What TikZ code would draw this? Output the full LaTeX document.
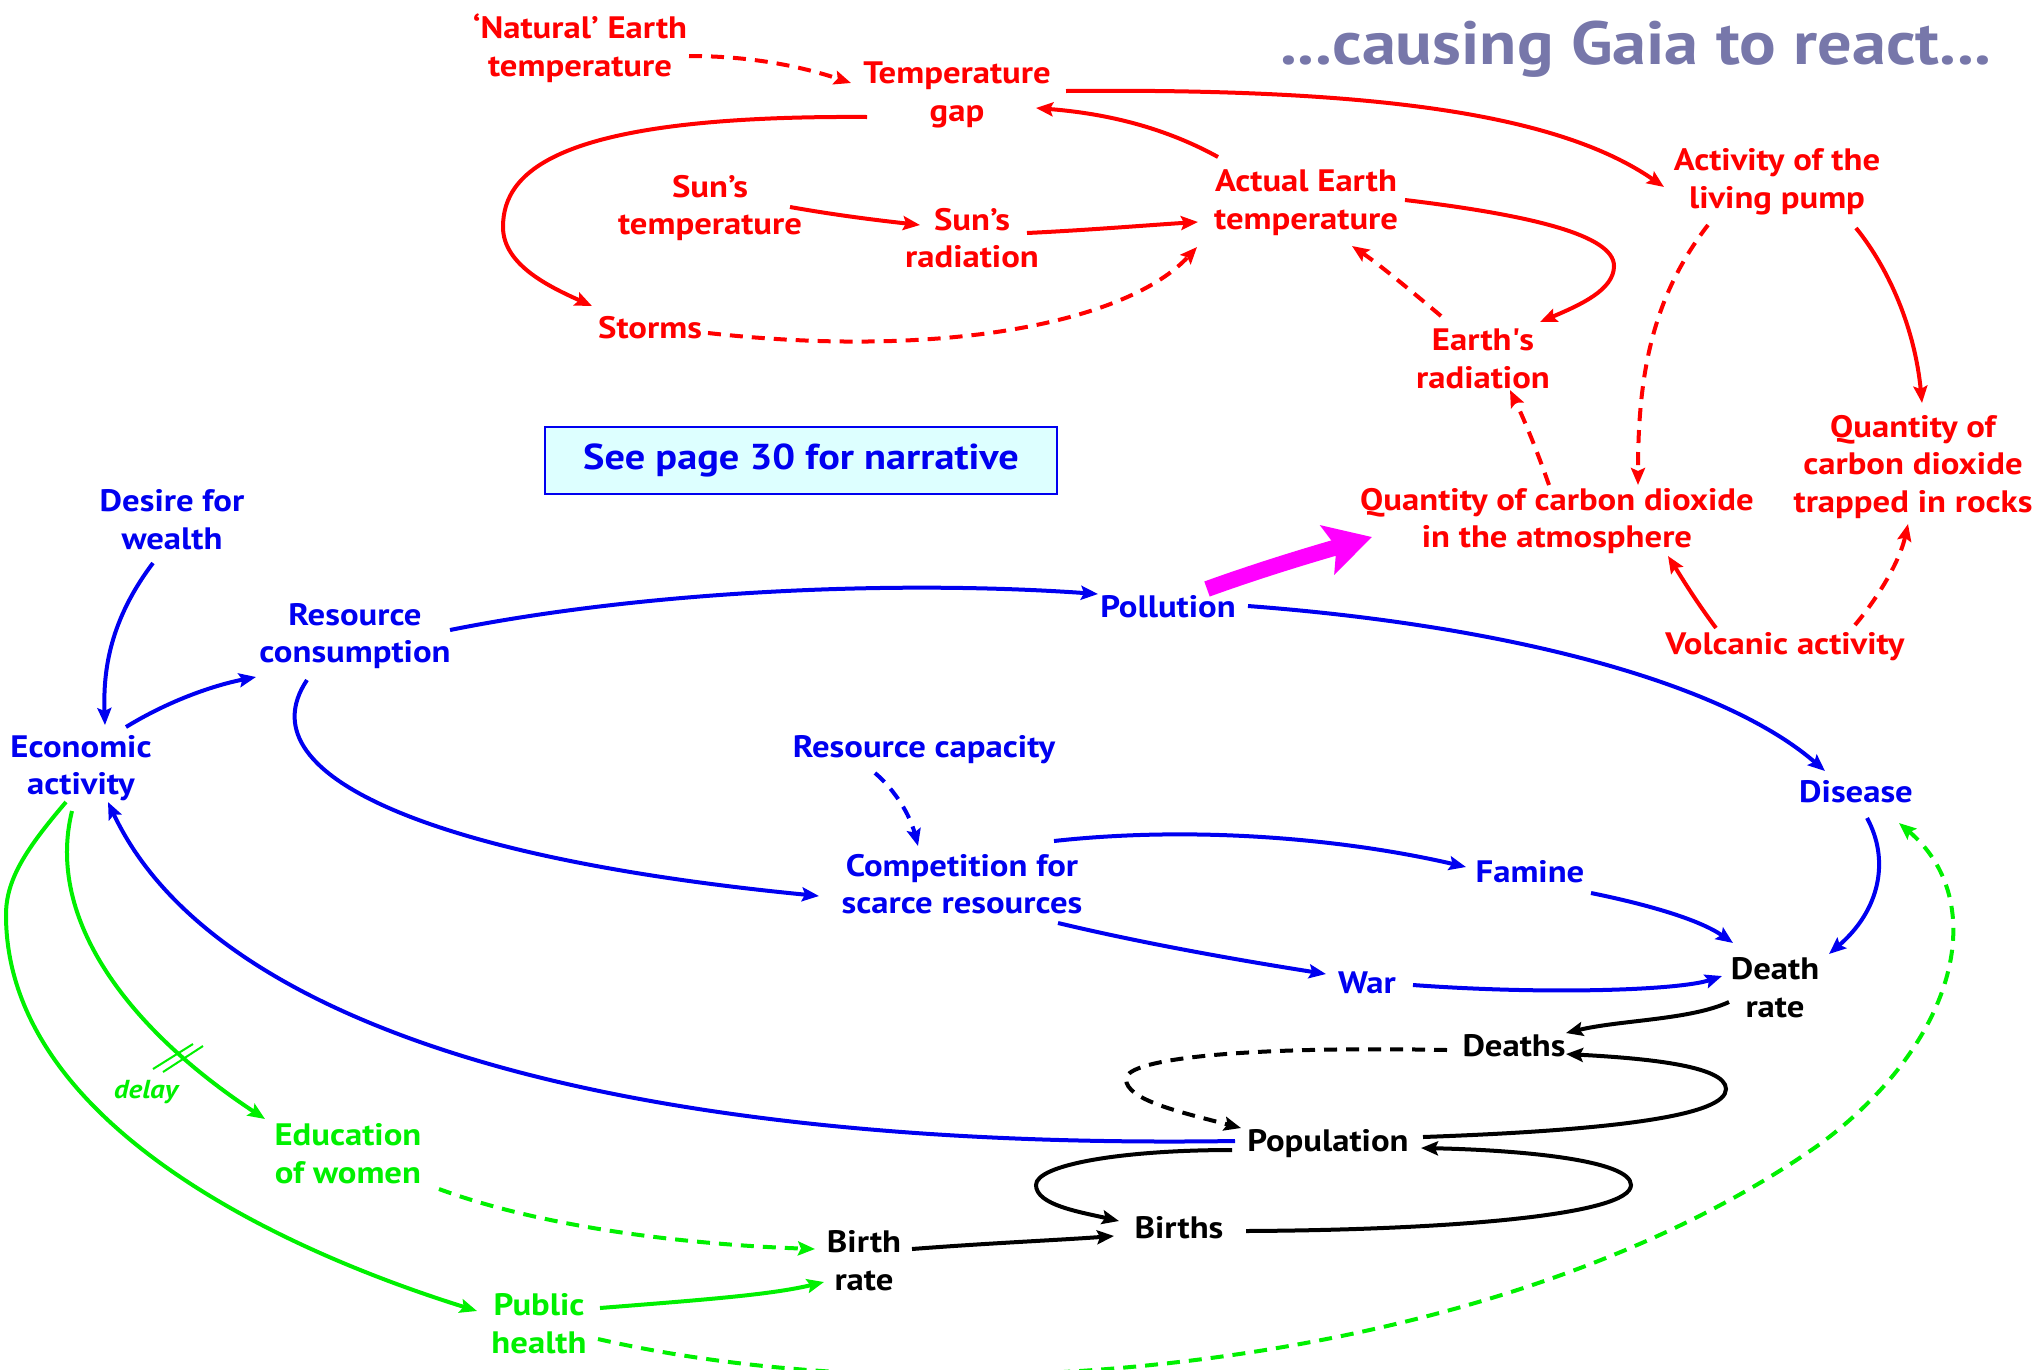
\documentclass[tikz,border=0pt]{standalone}
\usepackage{fontspec}
\setmainfont{PT Sans}[FakeStretch=1.12]
\usetikzlibrary{arrows.meta}
\definecolor{cRed}{RGB}{255,0,0}
\definecolor{cBlue}{RGB}{0,0,240}
\definecolor{cGreen}{RGB}{0,240,0}
\definecolor{cMag}{RGB}{255,0,255}
\definecolor{cTitle}{RGB}{119,119,170}
\definecolor{cBox}{RGB}{221,255,255}
\begin{document}
\begin{tikzpicture}[x=1pt,y=-1pt,
  lbl/.style={font=\fontsize{31}{37.7}\selectfont\bfseries, align=center, inner sep=0pt, yshift=-4pt},
  rtxt/.style={lbl,text=cRed},
  btxt/.style={lbl,text=cBlue},
  gtxt/.style={lbl,text=cGreen},
  ktxt/.style={lbl,text=black},
  link/.style={line width=4pt, -{Stealth[length=17pt,width=14pt,inset=3pt]}},
  dsh/.style={dash pattern=on 13pt off 9pt},
  rlink/.style={link,draw=cRed},
  blink/.style={link,draw=cBlue},
  glink/.style={link,draw=cGreen},
  klink/.style={link,draw=black},
]
\useasboundingbox (0,0) rectangle (2038,1369);

% ---------- title and note ----------
\node[font=\fontsize{61}{64}\selectfont\bfseries, text=cTitle, inner sep=0pt] (title) at (1636,49) {...causing Gaia to react...};
\node[draw=cBlue, line width=2pt, fill=cBox, minimum width=512pt, minimum height=67pt,
      font=\fontsize{36}{40}\selectfont\bfseries, text=cBlue] (note) at (801,460) {See page 30 for narrative};

% ---------- Gaia (red) ----------
\node[rtxt] (natural) at (580,44)  {‘Natural’ Earth\\temperature};
\node[rtxt] (tgap)    at (957,91)  {Temperature\\gap};
\node[rtxt] (sunT)    at (710,204) {Sun’s\\temperature};
\node[rtxt] (sunR)    at (972,234) {Sun’s\\radiation};
\node[rtxt] (actual)  at (1306,199) {Actual Earth\\temperature};
\node[rtxt] (storms)  at (650,324) {Storms};
\node[rtxt] (pump)    at (1777,178) {Activity of the\\living pump};
\node[rtxt] (earthR)  at (1483,355) {Earth\textquotesingle s\\radiation};
\node[rtxt] (co2)     at (1557,517) {Quantity of carbon dioxide\\in the atmosphere};
\node[rtxt] (rocks)   at (1913,463) {Quantity of\\carbon dioxide\\trapped in rocks};
\node[rtxt] (volc)    at (1785,643) {Volcanic activity};

% ---------- human activity (blue) ----------
\node[btxt] (desire)    at (172,516)  {Desire for\\wealth};
\node[btxt] (econ)      at (81,764)   {Economic\\activity};
\node[btxt] (rescons)   at (355,632)  {Resource\\consumption};
\node[btxt] (pollution) at (1168,603) {Pollution};
\node[btxt] (disease)   at (1856,788) {Disease};
\node[btxt] (rescap)    at (924,746)  {Resource capacity};
\node[btxt] (comp)      at (962,880)  {Competition for\\scarce resources};
\node[btxt] (famine)    at (1530,868) {Famine};
\node[btxt] (war)       at (1367,979) {War};

% ---------- population (black) ----------
\node[ktxt] (deathrate)  at (1775,984)  {Death\\rate};
\node[ktxt] (deaths)     at (1514,1042) {Deaths};
\node[ktxt] (population) at (1328,1140) {Population};
\node[ktxt] (births)     at (1179,1224) {Births};
\node[ktxt] (birthrate)  at (864,1257)  {Birth\\rate};

% ---------- social (green) ----------
\node[gtxt] (edu)    at (348,1150) {Education\\of women};
\node[gtxt] (health) at (539,1320) {Public\\health};
\node[font=\fontsize{26}{30}\selectfont\bfseries\itshape, text=cGreen, inner sep=0pt] (delay) at (146,1092) {delay};

% ---------- red links ----------
\draw[rlink,dsh] ([shift={(109,8)}]natural.center) .. controls (750,56) and (800,66) .. ([shift={(-106,-12)}]tgap.center);
\draw[rlink] ([shift={(-90,22)}]tgap.center) .. controls (560,115) and (503,170) .. (503,227)
             .. controls (503,265) and (550,287) .. ([shift={(-58,-22)}]storms.center);
\draw[rlink] ([shift={(80,-1)}]sunT.center) .. controls (835,215) and (875,220) .. ([shift={(-52,-13)}]sunR.center);
\draw[rlink] ([shift={(55,-5)}]sunR.center) .. controls (1090,230) and (1150,225) .. ([shift={(-108,19)}]actual.center);
\draw[rlink,dsh] ([shift={(58,5)}]storms.center) .. controls (950,360) and (1130,320) .. ([shift={(-109,44)}]actual.center);
\draw[rlink] ([shift={(-88,-46)}]actual.center) .. controls (1160,125) and (1100,113) .. ([shift={(79,13)}]tgap.center);
\draw[rlink] ([shift={(109,-4)}]tgap.center) .. controls (1380,88) and (1560,115) .. ([shift={(-113,5)}]pump.center);
\draw[rlink] ([shift={(99,-3)}]actual.center) .. controls (1530,215) and (1614,235) .. (1614,266)
             .. controls (1614,290) and (1580,305) .. ([shift={(57,-37)}]earthR.center);
\draw[rlink,dsh] ([shift={(-42,-43)}]earthR.center) .. controls (1410,290) and (1380,265) .. ([shift={(46,43)}]actual.center);
\draw[rlink,dsh] ([shift={(-8,-36)}]co2.center) .. controls (1535,445) and (1522,415) .. ([shift={(27,31)}]earthR.center);
\draw[rlink,dsh] ([shift={(-69,43)}]pump.center) .. controls (1650,300) and (1638,380) .. ([shift={(81,-36)}]co2.center);
\draw[rlink] ([shift={(79,46)}]pump.center) .. controls (1890,270) and (1915,330) .. ([shift={(9,-64)}]rocks.center);
\draw[rlink] ([shift={(-69,-19)}]volc.center) .. controls (1695,600) and (1680,575) .. ([shift={(111,35)}]co2.center);
\draw[rlink,dsh] ([shift={(70,-22)}]volc.center) .. controls (1880,595) and (1900,560) .. ([shift={(-5,57)}]rocks.center);

% ---------- pollution feeds the atmosphere ----------
\draw[draw=cMag, line width=16pt, -{Stealth[length=46pt,width=50pt,inset=9pt]}]
  ([shift={(39,-18)}]pollution.center) .. controls (1265,568) and (1320,552) .. ([shift={(-185,16)}]co2.center);

% ---------- blue links ----------
\draw[blink] ([shift={(-19,43)}]desire.center) .. controls (110,620) and (103,670) .. ([shift={(24,-43)}]econ.center);
\draw[blink] ([shift={(45,-41)}]econ.center) .. controls (170,700) and (215,685) .. ([shift={(-99,41)}]rescons.center);
\draw[blink] ([shift={(95,-6)}]rescons.center) .. controls (650,590) and (900,580) .. ([shift={(-70,-13)}]pollution.center);
\draw[blink] ([shift={(-48,44)}]rescons.center) .. controls (240,780) and (450,860) .. ([shift={(-143,12)}]comp.center);
\draw[blink] ([shift={(80,-1)}]pollution.center) .. controls (1500,625) and (1720,680) .. ([shift={(-31,-21)}]disease.center);
\draw[blink,dsh] ([shift={(-49,23)}]rescap.center) .. controls (895,790) and (910,815) .. ([shift={(-44,-38)}]comp.center);
\draw[blink] ([shift={(92,-43)}]comp.center) .. controls (1200,825) and (1350,840) .. ([shift={(-64,-5)}]famine.center);
\draw[blink] ([shift={(96,39)}]comp.center) .. controls (1150,945) and (1250,962) .. ([shift={(-41,-9)}]war.center);
\draw[blink] ([shift={(61,21)}]famine.center) .. controls (1650,905) and (1700,920) .. ([shift={(-42,-45)}]deathrate.center);
\draw[blink] ([shift={(46,2)}]war.center) .. controls (1550,995) and (1680,990) .. ([shift={(-53,-12)}]deathrate.center);
\draw[blink] ([shift={(11,26)}]disease.center) .. controls (1890,860) and (1880,910) .. ([shift={(54,-34)}]deathrate.center);
\draw[blink] ([shift={(-93,-3)}]population.center) .. controls (650,1150) and (220,1040) .. ([shift={(27,34)}]econ.center);

% ---------- black links ----------
\draw[klink] ([shift={(-46,14)}]deathrate.center) .. controls (1690,1020) and (1620,1020) .. ([shift={(52,-13)}]deaths.center);
\draw[klink,dsh] ([shift={(-67,4)}]deaths.center) .. controls (1250,1046) and (1126,1058) .. (1126,1079)
             .. controls (1126,1100) and (1180,1112) .. ([shift={(-87,-16)}]population.center);
\draw[klink] ([shift={(95,-7)}]population.center) .. controls (1620,1130) and (1726,1115) .. (1726,1089)
             .. controls (1726,1065) and (1640,1058) .. ([shift={(52,8)}]deaths.center);
\draw[klink] ([shift={(-96,6)}]population.center) .. controls (1120,1150) and (1036,1165) .. (1036,1185)
             .. controls (1036,1205) and (1080,1212) .. ([shift={(-60,-7)}]births.center);
\draw[klink] ([shift={(67,3)}]births.center) .. controls (1450,1230) and (1631,1215) .. (1631,1185)
             .. controls (1631,1160) and (1520,1150) .. ([shift={(93,4)}]population.center);
\draw[klink] ([shift={(48,-12)}]birthrate.center) .. controls (990,1243) and (1060,1240) .. ([shift={(-65,8)}]births.center);

% ---------- green links ----------
\draw[glink] ([shift={(-9,43)}]econ.center) .. controls (45,920) and (130,1030) .. ([shift={(-83,-35)}]edu.center);
\draw[cGreen, line width=2pt] (153,1069) -- (193,1044) (163,1072) -- (203,1046);
\draw[glink] ([shift={(-15,34)}]econ.center) .. controls (25,850) and (6,880) .. (6,915)
             .. controls (6,1110) and (250,1240) .. ([shift={(-62,-13)}]health.center);
\draw[glink] ([shift={(61,-16)}]health.center) .. controls (700,1300) and (770,1295) .. ([shift={(-40,21)}]birthrate.center);
\draw[glink,dsh] ([shift={(91,35)}]edu.center) .. controls (550,1230) and (700,1245) .. ([shift={(-49,-12)}]birthrate.center);
\draw[glink,dsh] ([shift={(59,15)}]health.center) .. controls (950,1420) and (1500,1370) .. (1820,1144)
             .. controls (1960,1040) and (1990,900) .. ([shift={(43,31)}]disease.center);
\end{tikzpicture}
\end{document}
